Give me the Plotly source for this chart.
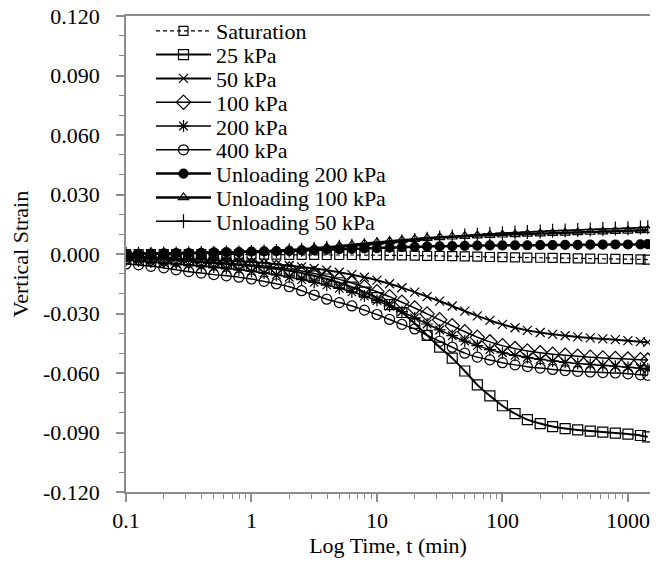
import plotly.graph_objects as go

time_min = [0.1, 0.126, 0.158, 0.2, 0.251, 0.316, 0.398, 0.501, 0.631, 0.794,
            1, 1.26, 1.58, 2, 2.51, 3.16, 3.98, 5.01, 6.31, 7.94,
            10, 12.6, 15.8, 20, 25.1, 31.6, 39.8, 50.1, 63.1, 79.4,
            100, 126, 158, 200, 251, 316, 398, 501, 631, 794,
            1000, 1259, 1440]

saturation = [0.0000, 0.0000, 0.0000, -0.0001, -0.0001, -0.0001, -0.0001, -0.0002, -0.0002, -0.0002,
              -0.0003, -0.0003, -0.0003, -0.0004, -0.0004, -0.0004, -0.0005, -0.0005, -0.0005, -0.0006,
              -0.0006, -0.0007, -0.0007, -0.0008, -0.0009, -0.0010, -0.0011, -0.0012, -0.0013, -0.0015,
              -0.0016, -0.0017, -0.0018, -0.0019, -0.0020, -0.0021, -0.0022, -0.0023, -0.0024, -0.0025,
              -0.0026, -0.0027, -0.0028]

kpa25 = [-0.0010, -0.0015, -0.0020, -0.0025, -0.0030, -0.0035, -0.0040, -0.0045, -0.0050, -0.0055,
         -0.0060, -0.0068, -0.0076, -0.0085, -0.0096, -0.0110, -0.0126, -0.0145, -0.0167, -0.0192,
         -0.0220, -0.0255, -0.0295, -0.0350, -0.0410, -0.0470, -0.0525, -0.0590, -0.0660, -0.0715,
         -0.0765, -0.0805, -0.0835, -0.0855, -0.0870, -0.0880, -0.0887, -0.0893, -0.0898, -0.0903,
         -0.0908, -0.0915, -0.0922]

kpa50 = [-0.0010, -0.0013, -0.0016, -0.0019, -0.0022, -0.0025, -0.0028, -0.0031, -0.0034, -0.0037,
         -0.0040, -0.0045, -0.0052, -0.0058, -0.0065, -0.0073, -0.0082, -0.0092, -0.0104, -0.0117,
         -0.0132, -0.0150, -0.0170, -0.0192, -0.0215, -0.0238, -0.0262, -0.0288, -0.0312, -0.0335,
         -0.0355, -0.0372, -0.0385, -0.0396, -0.0405, -0.0412, -0.0418, -0.0423, -0.0428, -0.0432,
         -0.0437, -0.0442, -0.0445]

kpa100 = [-0.0020, -0.0023, -0.0026, -0.0029, -0.0032, -0.0035, -0.0038, -0.0042, -0.0046, -0.0050,
          -0.0055, -0.0061, -0.0068, -0.0076, -0.0086, -0.0098, -0.0112, -0.0128, -0.0146, -0.0166,
          -0.0190, -0.0215, -0.0243, -0.0272, -0.0302, -0.0332, -0.0362, -0.0392, -0.0420, -0.0443,
          -0.0462, -0.0477, -0.0489, -0.0498, -0.0505, -0.0511, -0.0516, -0.0520, -0.0524, -0.0527,
          -0.0530, -0.0533, -0.0535]

kpa200 = [-0.0030, -0.0035, -0.0040, -0.0045, -0.0050, -0.0055, -0.0060, -0.0066, -0.0072, -0.0079,
          -0.0087, -0.0096, -0.0106, -0.0117, -0.0129, -0.0143, -0.0157, -0.0173, -0.0191, -0.0212,
          -0.0235, -0.0262, -0.0291, -0.0322, -0.0353, -0.0383, -0.0412, -0.0439, -0.0462, -0.0482,
          -0.0498, -0.0511, -0.0522, -0.0531, -0.0539, -0.0546, -0.0552, -0.0557, -0.0562, -0.0566,
          -0.0571, -0.0576, -0.0580]

kpa400 = [-0.0050, -0.0055, -0.0062, -0.0070, -0.0080, -0.0089, -0.0096, -0.0104, -0.0110, -0.0117,
          -0.0126, -0.0138, -0.0150, -0.0165, -0.0185, -0.0207, -0.0228, -0.0245, -0.0262, -0.0283,
          -0.0305, -0.0330, -0.0355, -0.0378, -0.0410, -0.0440, -0.0470, -0.0500, -0.0520, -0.0534,
          -0.0548, -0.0559, -0.0568, -0.0575, -0.0582, -0.0588, -0.0592, -0.0595, -0.0598, -0.0600,
          -0.0604, -0.0609, -0.0612]

unload200 = [0.0000, 0.0001, 0.0002, 0.0003, 0.0004, 0.0005, 0.0006, 0.0008, 0.0009, 0.0010,
             0.0012, 0.0013, 0.0015, 0.0016, 0.0018, 0.0020, 0.0022, 0.0024, 0.0026, 0.0028,
             0.0030, 0.0032, 0.0034, 0.0036, 0.0038, 0.0039, 0.0040, 0.0041, 0.0042, 0.0043,
             0.0043, 0.0044, 0.0044, 0.0045, 0.0045, 0.0046, 0.0046, 0.0047, 0.0047, 0.0048,
             0.0048, 0.0049, 0.0050]

unload100 = [0.0000, 0.0001, 0.0002, 0.0003, 0.0004, 0.0005, 0.0006, 0.0007, 0.0008, 0.0010,
             0.0012, 0.0014, 0.0017, 0.0020, 0.0024, 0.0029, 0.0034, 0.0040, 0.0046, 0.0052,
             0.0058, 0.0064, 0.0069, 0.0075, 0.0080, 0.0084, 0.0087, 0.0090, 0.0093, 0.0095,
             0.0097, 0.0099, 0.0101, 0.0103, 0.0105, 0.0107, 0.0109, 0.0111, 0.0113, 0.0115,
             0.0117, 0.0119, 0.0121]

unload50 = [0.0000, 0.0001, 0.0001, 0.0002, 0.0003, 0.0004, 0.0005, 0.0006, 0.0007, 0.0008,
            0.0010, 0.0012, 0.0015, 0.0018, 0.0022, 0.0026, 0.0031, 0.0036, 0.0041, 0.0046,
            0.0051, 0.0057, 0.0063, 0.0070, 0.0077, 0.0083, 0.0088, 0.0093, 0.0097, 0.0101,
            0.0105, 0.0108, 0.0111, 0.0114, 0.0117, 0.0119, 0.0121, 0.0124, 0.0126, 0.0128,
            0.0130, 0.0133, 0.0135]

series_names = ["Saturation", "25 kPa", "50 kPa", "100 kPa", "200 kPa", "400 kPa",
                "Unloading 200 kPa", "Unloading 100 kPa", "Unloading 50 kPa"]
series_values = [saturation, kpa25, kpa50, kpa100, kpa200, kpa400, unload200, unload100, unload50]

x_ticks = [0.1, 1, 10, 100, 1000]
x_tick_text = ["0.1", "1", "10", "100", "1000"]
y_ticks = [-0.12, -0.09, -0.06, -0.03, 0.0, 0.03, 0.06, 0.09, 0.12]
y_tick_text = ["-0.120", "-0.090", "-0.060", "-0.030", "0.000", "0.030", "0.060", "0.090", "0.120"]

styles = [
    dict(symbol="square-open", size=9, width=1.2, dash="4px,3px"),
    dict(symbol="square-open", size=10, width=2.0, dash="solid"),
    dict(symbol="x-thin-open", size=9, width=2.0, dash="solid"),
    dict(symbol="diamond-open", size=11, width=1.5, dash="solid"),
    dict(symbol="asterisk-open", size=10, width=1.5, dash="solid"),
    dict(symbol="circle-open", size=10, width=1.5, dash="solid"),
    dict(symbol="circle", size=9, width=2.5, dash="solid"),
    dict(symbol="triangle-up-open", size=9, width=2.5, dash="solid"),
    dict(symbol="cross-thin-open", size=10, width=1.5, dash="solid"),
]

FONT = "Liberation Serif"
TICK_SIZE = 22
LEG_SIZE = 22
W, H = 657, 563
L, R, T, B = 126, 7, 16, 71
plot_w = W - L - R
plot_h = H - T - B

fig = go.Figure()
layout_legends = {}
for i, (name, vals, st) in enumerate(zip(series_names, series_values, styles)):
    key = "legend" if i == 0 else f"legend{i+1}"
    fig.add_trace(go.Scatter(
        x=time_min, y=vals, name=name, mode="lines+markers",
        line=dict(color="black", width=st["width"], dash=st["dash"], shape="spline", smoothing=0.6),
        marker=dict(symbol=st["symbol"], size=st["size"], color="black",
                    line=dict(color="black", width=1.2)),
        legend=key,
    ))
    y_page = 31 + 23.8 * i
    layout_legends[key] = dict(
        x=(151 - L) / plot_w, y=(H - B - y_page) / plot_h,
        xanchor="left", yanchor="middle",
        bgcolor="rgba(0,0,0,0)", borderwidth=0,
        font=dict(family=FONT, size=LEG_SIZE, color="black"),
        itemwidth=55, tracegroupgap=0,
    )

axis_color = "#8c8c8c"
fig.update_layout(
    width=W, height=H,
    margin=dict(l=L, r=R, t=T, b=B, autoexpand=False),
    paper_bgcolor="white", plot_bgcolor="white",
    font=dict(family=FONT, size=TICK_SIZE, color="black"),
    showlegend=True,
    xaxis=dict(
        type="log", range=[-1, 3.176],
        tickmode="array", tickvals=x_ticks, ticktext=x_tick_text,
        showgrid=False, zeroline=False,
        showline=True, linecolor=axis_color, linewidth=1.5, mirror=True,
        ticks="outside", ticklen=8, tickcolor=axis_color, tickwidth=1.5,
        minor=dict(ticks="outside", ticklen=5, tickcolor=axis_color, tickwidth=1.2, dtick="D1", showgrid=False),
        tickfont=dict(family=FONT, size=TICK_SIZE, color="black"),
        ticklabeloverflow="allow",
        title=dict(text="Log Time, t (min)", font=dict(family=FONT, size=TICK_SIZE, color="black"), standoff=4),
    ),
    yaxis=dict(
        range=[-0.12, 0.12],
        tickmode="array", tickvals=y_ticks, ticktext=y_tick_text,
        showgrid=False, zeroline=False,
        showline=True, linecolor=axis_color, linewidth=1.5,
        ticks="outside", ticklen=8, tickcolor=axis_color, tickwidth=1.5,
        minor=dict(ticks="outside", ticklen=5, tickcolor=axis_color, tickwidth=1.2, dtick=0.01, tick0=0, showgrid=False),
        tickfont=dict(family=FONT, size=TICK_SIZE, color="black"),
        ticklabelstandoff=12,
        ticklabeloverflow="allow",
        title=dict(text="Vertical Strain", font=dict(family=FONT, size=TICK_SIZE, color="black"), standoff=8),
    ),
    **layout_legends,
)

fig.write_html(
    "out.html",
    config={"displayModeBar": False},
    post_script="document.body.style.margin='0';document.body.style.overflow='hidden';",
)
